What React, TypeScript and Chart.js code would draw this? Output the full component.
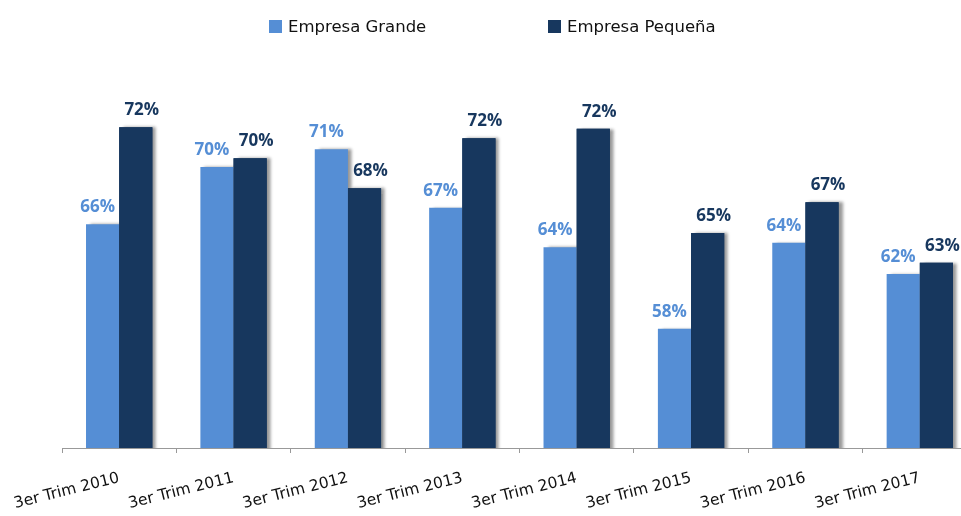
import React, { useEffect, useRef } from "react";
import { Chart, registerables } from "chart.js";

Chart.register(...registerables);

const categories = [
  "3er Trim 2010",
  "3er Trim 2011",
  "3er Trim 2012",
  "3er Trim 2013",
  "3er Trim 2014",
  "3er Trim 2015",
  "3er Trim 2016",
  "3er Trim 2017",
];
const seriesNames = ["Empresa Grande", "Empresa Pequeña"];
const grande = [65.64, 69.65, 70.89, 66.8, 64.03, 58.34, 64.36, 62.17];
const pequena = [72.43, 70.26, 68.16, 71.66, 72.33, 65.03, 67.18, 62.96];

const COLOR_G = "#558ED5";
const COLOR_P = "#17375E";

const shadowPlugin = {
  id: "barShadow",
  beforeDatasetDraw(chart: any) {
    const ctx = chart.ctx;
    ctx.save();
    ctx.shadowColor = "rgba(0,0,0,0.4)";
    ctx.shadowBlur = 3;
    ctx.shadowOffsetX = 4;
    ctx.shadowOffsetY = 0;
  },
  afterDatasetDraw(chart: any) {
    chart.ctx.restore();
  },
  afterDatasetsDraw(chart: any) {
    // repaint the second series so the first series' shadow does not fall on it
    const meta = chart.getDatasetMeta(1);
    const ctx = chart.ctx;
    ctx.save();
    ctx.beginPath();
    const a = chart.chartArea;
    ctx.rect(a.left, a.top - 20, a.right - a.left, a.bottom - a.top + 20);
    ctx.clip();
    meta.controller.draw();
    ctx.restore();
  },
};

const labelsPlugin = {
  id: "valueLabels",
  afterDraw(chart: any) {
    const ctx = chart.ctx;
    ctx.save();
    ctx.font = "bold 17px 'Open Sans'";
    ctx.textAlign = "center";
    ctx.textBaseline = "alphabetic";
    chart.data.datasets.forEach((ds: any, di: number) => {
      const meta = chart.getDatasetMeta(di);
      ctx.fillStyle = ds.backgroundColor;
      meta.data.forEach((bar: any, i: number) => {
        const v = ds.data[i];
        const dx = di === 0 ? -5 : 6;
        ctx.fillText(Math.round(v) + "%", bar.x + dx, bar.y - 12);
      });
    });

    // legend
    ctx.font = "16.5px 'DejaVu Sans'";
    ctx.textAlign = "left";
    const items = [
      { x: 269, color: COLOR_G, text: seriesNames[0] },
      { x: 548, color: COLOR_P, text: seriesNames[1] },
    ];
    items.forEach((it) => {
      ctx.fillStyle = it.color;
      ctx.fillRect(it.x, 20, 13, 13);
      ctx.fillStyle = "#111";
      ctx.fillText(it.text, it.x + 19, 32);
    });
    ctx.restore();
  },
};

export default function App() {
  const ref = useRef<HTMLCanvasElement | null>(null);

  useEffect(() => {
    if (!ref.current) return;
    const chart = new Chart(ref.current, {
      type: "bar",
      data: {
        labels: categories,
        datasets: [
          {
            label: seriesNames[0],
            data: grande,
            backgroundColor: COLOR_G,
            categoryPercentage: 0.58,
            barPercentage: 1.0,
          },
          {
            label: seriesNames[1],
            data: pequena,
            backgroundColor: COLOR_P,
            categoryPercentage: 0.58,
            barPercentage: 1.0,
          },
        ],
      },
      options: {
        responsive: false,
        animation: false,
        devicePixelRatio: 1,
        layout: { padding: { left: 62, top: 90.5, right: 23, bottom: 0 } },
        plugins: {
          legend: { display: false },
          tooltip: { enabled: false },
          title: { display: false },
        },
        scales: {
          x: {
            grid: {
              display: true,
              drawOnChartArea: false,
              drawTicks: true,
              tickLength: 5,
              color: "#999",
            },
            border: { display: true, color: "#999", width: 1 },
            ticks: {
              autoSkip: false,
              minRotation: 14,
              maxRotation: 14,
              padding: 16,
              color: "#111",
              font: { family: "'DejaVu Sans'", size: 15.5 },
            },
            afterFit(scale: any) {
              scale.height = 68;
              scale.paddingLeft = 0;
              scale.paddingRight = 0;
            },
          },
          y: {
            display: false,
            min: 50,
            max: 75,
          },
        },
      },
      plugins: [shadowPlugin, labelsPlugin],
    });
    return () => chart.destroy();
  }, []);

  return (
    <div
      style={{
        position: "fixed",
        left: 0,
        top: 0,
        width: 961,
        height: 516,
        overflow: "hidden",
        background: "#fff",
      }}
    >
      <canvas ref={ref} width={1000} height={516} style={{ display: "block" }} />
    </div>
  );
}
